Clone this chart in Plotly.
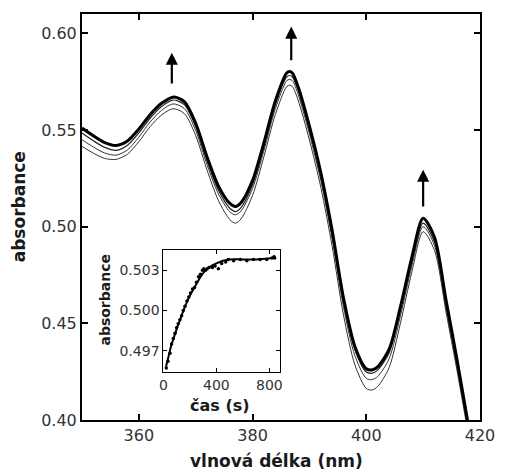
import plotly.graph_objects as go

# Absorption spectra recorded during the reaction (top curve = final spectrum)
wavelength = [350, 352, 354, 356, 358, 360, 362, 364, 366, 368, 370, 372, 374, 376, 377,
              378, 380, 382, 384, 386, 386.5, 387, 388, 390, 392, 394, 396, 398, 400, 401,
              402, 404, 406, 408, 410, 412, 414, 416, 418, 420]

spec_final = [0.5510, 0.5470, 0.5435, 0.5420, 0.5443, 0.5505, 0.5580, 0.5638, 0.5670, 0.5647,
              0.5535, 0.5360, 0.5210, 0.5120, 0.5104, 0.5125, 0.5240, 0.5435, 0.5650, 0.5795,
              0.5802, 0.5795, 0.5725, 0.5520, 0.5280, 0.4980, 0.4630, 0.4380, 0.4265, 0.4259,
              0.4275, 0.4365, 0.4585, 0.4840, 0.5044, 0.4945, 0.4625, 0.4305, 0.3965, 0.3620]

spec_3 = [0.5484, 0.5444, 0.5410, 0.5395, 0.5421, 0.5485, 0.5562, 0.5622, 0.5655, 0.5631,
          0.5517, 0.5340, 0.5188, 0.5095, 0.5078, 0.5100, 0.5217, 0.5414, 0.5630, 0.5775,
          0.5782, 0.5775, 0.5706, 0.5502, 0.5263, 0.4963, 0.4613, 0.4363, 0.4248, 0.4242,
          0.4258, 0.4347, 0.4565, 0.4817, 0.5018, 0.4920, 0.4603, 0.4285, 0.3947, 0.3604]

spec_2 = [0.5450, 0.5412, 0.5381, 0.5370, 0.5397, 0.5463, 0.5542, 0.5602, 0.5635, 0.5611,
          0.5497, 0.5320, 0.5169, 0.5077, 0.5061, 0.5082, 0.5198, 0.5394, 0.5610, 0.5755,
          0.5762, 0.5755, 0.5685, 0.5480, 0.5239, 0.4937, 0.4585, 0.4332, 0.4215, 0.4209,
          0.4225, 0.4316, 0.4538, 0.4795, 0.5000, 0.4902, 0.4585, 0.4269, 0.3933, 0.3590]

spec_1 = [0.5415, 0.5380, 0.5353, 0.5348, 0.5375, 0.5440, 0.5518, 0.5578, 0.5610, 0.5585,
          0.5471, 0.5292, 0.5135, 0.5036, 0.5018, 0.5041, 0.5162, 0.5363, 0.5580, 0.5725,
          0.5732, 0.5725, 0.5655, 0.5448, 0.5204, 0.4898, 0.4542, 0.4285, 0.4163, 0.4155,
          0.4173, 0.4270, 0.4500, 0.4764, 0.4974, 0.4877, 0.4563, 0.4249, 0.3915, 0.3575]

# Kinetic trace at 410 nm (inset)
time_s = [22, 35, 50, 62, 75, 88, 100, 112, 125, 138, 150, 163, 178, 192, 205, 220, 235,
          250, 265, 280, 295, 305, 318, 330, 345, 370, 390, 415, 440, 470, 490, 530, 580,
          630, 680, 730, 780, 820, 835, 840]
abs_410 = [0.4957, 0.4962, 0.4968, 0.4975, 0.4979, 0.4983, 0.4987, 0.4990, 0.4993, 0.4996,
           0.5000, 0.5003, 0.5007, 0.5010, 0.5013, 0.5016, 0.5017, 0.5021, 0.5025, 0.5027,
           0.5030, 0.5031, 0.5030, 0.5031, 0.5032, 0.5032, 0.5033, 0.5031, 0.5035, 0.5036,
           0.5038, 0.5037, 0.5038, 0.5037, 0.5038, 0.5038, 0.5038, 0.5039, 0.5040, 0.5039]

fit_t = [20, 40, 60, 80, 100, 130, 160, 200, 240, 280, 320, 360, 400, 450, 500, 600, 700, 830]
fit_a = [0.4958, 0.4966, 0.4974, 0.4980, 0.4986, 0.4994, 0.5002, 0.5011, 0.5018, 0.5025,
         0.5030, 0.5033, 0.5035, 0.5037, 0.5038, 0.5038, 0.5038, 0.5039]

# Arrows marking the growing bands: (wavelength, tail absorbance, head absorbance)
arrow_x = [365.8, 386.8, 410.0]
arrow_tail = [0.5733, 0.5853, 0.5097]
arrow_head = [0.5900, 0.6035, 0.5295]

FONT = "DejaVu Sans"

fig = go.Figure()

for ys, w, c in [(spec_1, 1, "#333333"), (spec_2, 1, "#333333"),
                 (spec_3, 1.2, "#222222"), (spec_final, 3, "black")]:
    fig.add_trace(go.Scatter(x=wavelength, y=ys, mode="lines",
                             line=dict(color=c, width=w, shape="spline", smoothing=0.8),
                             xaxis="x", yaxis="y", showlegend=False, hoverinfo="skip"))

fig.add_trace(go.Scatter(x=fit_t, y=fit_a, mode="lines",
                         line=dict(color="black", width=2, shape="spline", smoothing=0.8),
                         xaxis="x2", yaxis="y2", showlegend=False))
fig.add_trace(go.Scatter(x=time_s, y=abs_410, mode="markers",
                         marker=dict(color="black", size=3.5),
                         xaxis="x2", yaxis="y2", showlegend=False))

for x, y0, y1 in zip(arrow_x, arrow_tail, arrow_head):
    fig.add_annotation(x=x, y=y1, ax=x, ay=y0, xref="x", yref="y", axref="x", ayref="y",
                       showarrow=True, arrowhead=2, arrowsize=1.1, arrowwidth=2.2,
                       arrowcolor="black", text="")

axis_common = dict(showgrid=False, zeroline=False, showline=True, linecolor="black",
                   mirror="allticks", ticks="inside")

fig.update_layout(
    width=507, height=473,
    margin=dict(l=82, r=19, t=14, b=53),
    paper_bgcolor="white", plot_bgcolor="white",
    font=dict(family=FONT, color="#2a2a2a"),
    xaxis=dict(**axis_common, range=[350, 420], tickvals=[360, 380, 400, 420],
               linewidth=2, tickwidth=2, ticklen=6, tickcolor="black",
               tickfont=dict(size=16, color="#333333"), domain=[0, 1]),
    yaxis=dict(**axis_common, range=[0.40, 0.61], tickvals=[0.40, 0.45, 0.50, 0.55, 0.60],
               tickformat=".2f", linewidth=2, tickwidth=2, ticklen=6, tickcolor="black",
               tickfont=dict(size=16, color="#333333"), domain=[0, 1]),
    xaxis2=dict(**axis_common, range=[0, 880], tickvals=[0, 400, 800],
                linewidth=1, tickwidth=1, ticklen=4, tickcolor="black",
                tickfont=dict(size=14, color="#333333"),
                domain=[0.2044, 0.4975], anchor="y2"),
    yaxis2=dict(**axis_common, range=[0.4954, 0.5045], tickvals=[0.497, 0.500, 0.503],
                tickformat=".3f", linewidth=1, tickwidth=1, ticklen=4, tickcolor="black",
                tickfont=dict(size=14, color="#333333"),
                domain=[0.118, 0.4187], anchor="x2"),
)

# Axis titles
titles = [
    dict(text="<b>absorbance</b>", x=-0.1576, y=0.5246, textangle=-90, size=17),
    dict(text="<b>vlnová délka (nm)</b>", x=0.4877, y=-0.101, textangle=0, size=17),
    dict(text="<b>absorbance</b>", x=0.0567, y=0.2956, textangle=-90, size=14),
    dict(text="<b>čas (s)</b>", x=0.347, y=0.0369, textangle=0, size=16),
]
for t in titles:
    fig.add_annotation(text=t["text"], x=t["x"], y=t["y"], xref="paper", yref="paper",
                       showarrow=False, textangle=t["textangle"],
                       font=dict(family=FONT, size=t["size"], color="#1a1a1a"),
                       xanchor="center", yanchor="middle")

fig.write_html("out.html")
